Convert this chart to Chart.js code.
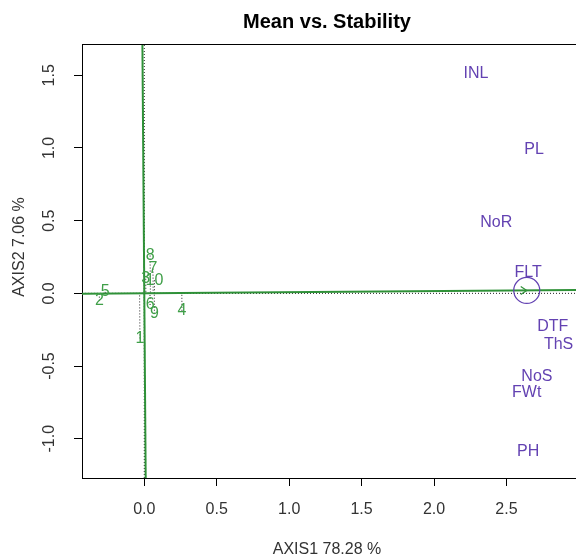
<!DOCTYPE html>
<html>
<head>
<meta charset="utf-8">
<script src="https://cdn.jsdelivr.net/npm/chart.js@4"></script>
<style>
  body { margin: 0; background: #fff; }
</style>
</head>
<body>
<canvas id="biplot" width="576" height="560"></canvas>
<script>
// genotypes (green numbers)
const genotypes = ["1", "2", "3", "4", "5", "6", "7", "8", "9", "10"];
const genoX = [-0.03, -0.31, 0.01, 0.26, -0.27, 0.04, 0.06, 0.04, 0.07, 0.07];
const genoY = [-0.31, -0.05, 0.10, -0.12, 0.01, -0.08, 0.17, 0.26, -0.14, 0.09];

// traits (purple labels)
const traits = ["INL", "PL", "NoR", "FLT", "DTF", "ThS", "NoS", "FWt", "PH"];
const traitX = [2.29, 2.69, 2.43, 2.65, 2.82, 2.86, 2.71, 2.64, 2.65];
const traitY = [1.51, 0.99, 0.49, 0.14, -0.23, -0.35, -0.57, -0.68, -1.09];

// average environment coordinate
const aveEnv = [2.64, 0.02];

const xTicks = [0, 0.5, 1, 1.5, 2, 2.5];
const yTicks = [-1, -0.5, 0, 0.5, 1, 1.5];
const xRange = [-0.43, 2.98];
const yRange = [-1.27, 1.715];

const GREEN = "#2f9138";
const GREEN_TEXT = "#3f9f48";
const PURPLE = "#6342b2";
const FONT = "'Liberation Sans', Arial, sans-serif";

// ATC abscissa and ordinate through the origin
const slope = aveEnv[1] / aveEnv[0];
const abscissa = [
  { x: xRange[0], y: xRange[0] * slope },
  { x: xRange[1], y: xRange[1] * slope },
];
const ordinate = [
  { x: -yRange[1] * slope, y: yRange[1] },
  { x: -yRange[0] * slope, y: yRange[0] },
];

// projections of genotypes onto the abscissa
const norm2 = aveEnv[0] * aveEnv[0] + aveEnv[1] * aveEnv[1];
const projections = genotypes.map(function (g, i) {
  const t = (genoX[i] * aveEnv[0] + genoY[i] * aveEnv[1]) / norm2;
  return {
    type: "line",
    data: [
      { x: genoX[i], y: genoY[i] },
      { x: t * aveEnv[0], y: t * aveEnv[1] },
    ],
    borderColor: "#222",
    borderWidth: 1,
    borderDash: [1, 2],
    pointRadius: 0,
    order: 5,
  };
});

const labelPlugin = {
  id: "labels",
  afterDatasetsDraw(chart) {
    const ctx = chart.ctx;
    ctx.save();
    ctx.textAlign = "center";
    ctx.textBaseline = "middle";
    chart.data.datasets.forEach(function (ds, i) {
      if (!ds.textLabels) return;
      const meta = chart.getDatasetMeta(i);
      ctx.fillStyle = ds.textColor;
      ctx.font = "16px " + FONT;
      meta.data.forEach(function (el, j) {
        ctx.fillText(ds.textLabels[j], el.x, el.y);
      });
    });

    // arrow head at the average environment
    const ax = chart.scales.x.getPixelForValue(aveEnv[0]);
    const ay = chart.scales.y.getPixelForValue(aveEnv[1]);
    ctx.strokeStyle = GREEN;
    ctx.lineWidth = 1.2;
    ctx.beginPath();
    ctx.moveTo(ax - 6, ay - 4);
    ctx.lineTo(ax, ay);
    ctx.lineTo(ax - 6, ay + 4);
    ctx.stroke();
    ctx.restore();
  },
  afterDraw(chart) {
    const ctx = chart.ctx;
    const area = chart.chartArea;
    ctx.save();
    // top frame line
    ctx.strokeStyle = "#000";
    ctx.lineWidth = 1;
    ctx.beginPath();
    ctx.moveTo(area.left, area.top + 0.5);
    ctx.lineTo(area.right, area.top + 0.5);
    ctx.stroke();

    ctx.fillStyle = "#000";
    ctx.textAlign = "center";
    ctx.textBaseline = "middle";
    ctx.font = "bold 20px " + FONT;
    ctx.fillText("Mean vs. Stability", 327, 22);

    ctx.fillStyle = "#333";
    ctx.font = "16px " + FONT;
    ctx.fillText("AXIS1 78.28 %", 327, 550);

    // x tick labels
    xTicks.forEach(function (v) {
      const px = chart.scales.x.getPixelForValue(v);
      ctx.fillText(v.toFixed(1), px, 510);
    });

    // rotated y tick labels
    yTicks.forEach(function (v) {
      const py = chart.scales.y.getPixelForValue(v);
      ctx.save();
      ctx.translate(50, py);
      ctx.rotate(-Math.PI / 2);
      ctx.fillText(v.toFixed(1), 0, 0);
      ctx.restore();
    });

    ctx.save();
    ctx.translate(20, 247);
    ctx.rotate(-Math.PI / 2);
    ctx.fillText("AXIS2 7.06 %", 0, 0);
    ctx.restore();
    ctx.restore();
  },
};

new Chart(document.getElementById("biplot"), {
  type: "scatter",
  data: {
    datasets: [
      {
        data: genotypes.map((g, i) => ({ x: genoX[i], y: genoY[i] })),
        textLabels: genotypes,
        textColor: GREEN_TEXT,
        pointRadius: 0,
        order: 0,
      },
      {
        data: traits.map((t, i) => ({ x: traitX[i], y: traitY[i] })),
        textLabels: traits,
        textColor: PURPLE,
        pointRadius: 0,
        order: 0,
      },
      {
        data: [{ x: aveEnv[0], y: aveEnv[1] }],
        pointRadius: 13,
        pointStyle: "circle",
        borderColor: PURPLE,
        borderWidth: 1.2,
        backgroundColor: "rgba(0,0,0,0)",
        order: 1,
      },
      {
        type: "line",
        data: abscissa,
        borderColor: GREEN,
        borderWidth: 2,
        pointRadius: 0,
        order: 2,
      },
      {
        type: "line",
        data: ordinate,
        borderColor: GREEN,
        borderWidth: 2,
        pointRadius: 0,
        order: 2,
      },
      {
        type: "line",
        data: [{ x: xRange[0], y: 0 }, { x: xRange[1], y: 0 }],
        borderColor: "#222",
        borderWidth: 1,
        borderDash: [1, 2],
        pointRadius: 0,
        order: 4,
      },
      {
        type: "line",
        data: [{ x: 0, y: yRange[0] }, { x: 0, y: yRange[1] }],
        borderColor: "#222",
        borderWidth: 1,
        borderDash: [1, 2],
        pointRadius: 0,
        order: 4,
      },
    ].concat(projections),
  },
  options: {
    responsive: false,
    animation: false,
    layout: {
      autoPadding: false,
      padding: { top: 44, left: 0, right: 0, bottom: 0 },
    },
    plugins: {
      legend: { display: false },
      tooltip: { enabled: false },
      title: { display: false },
    },
    scales: {
      x: {
        type: "linear",
        min: xRange[0],
        max: xRange[1],
        afterBuildTicks: function (scale) {
          scale.ticks = xTicks.map((v) => ({ value: v }));
        },
        afterFit: function (scale) {
          scale.height = 82;
          scale.paddingLeft = 0;
          scale.paddingRight = 0;
        },
        grid: {
          display: true,
          drawOnChartArea: false,
          drawTicks: true,
          tickLength: 8,
          color: "#000",
        },
        border: { display: true, color: "#000", width: 1 },
        ticks: { display: false },
      },
      y: {
        type: "linear",
        min: yRange[0],
        max: yRange[1],
        afterBuildTicks: function (scale) {
          scale.ticks = yTicks.map((v) => ({ value: v }));
        },
        afterFit: function (scale) {
          scale.width = 82;
          scale.paddingTop = 0;
          scale.paddingBottom = 0;
        },
        grid: {
          display: true,
          drawOnChartArea: false,
          drawTicks: true,
          tickLength: 8,
          color: "#000",
        },
        border: { display: true, color: "#000", width: 1 },
        ticks: { display: false },
      },
    },
  },
  plugins: [labelPlugin],
});
</script>
</body>
</html>
